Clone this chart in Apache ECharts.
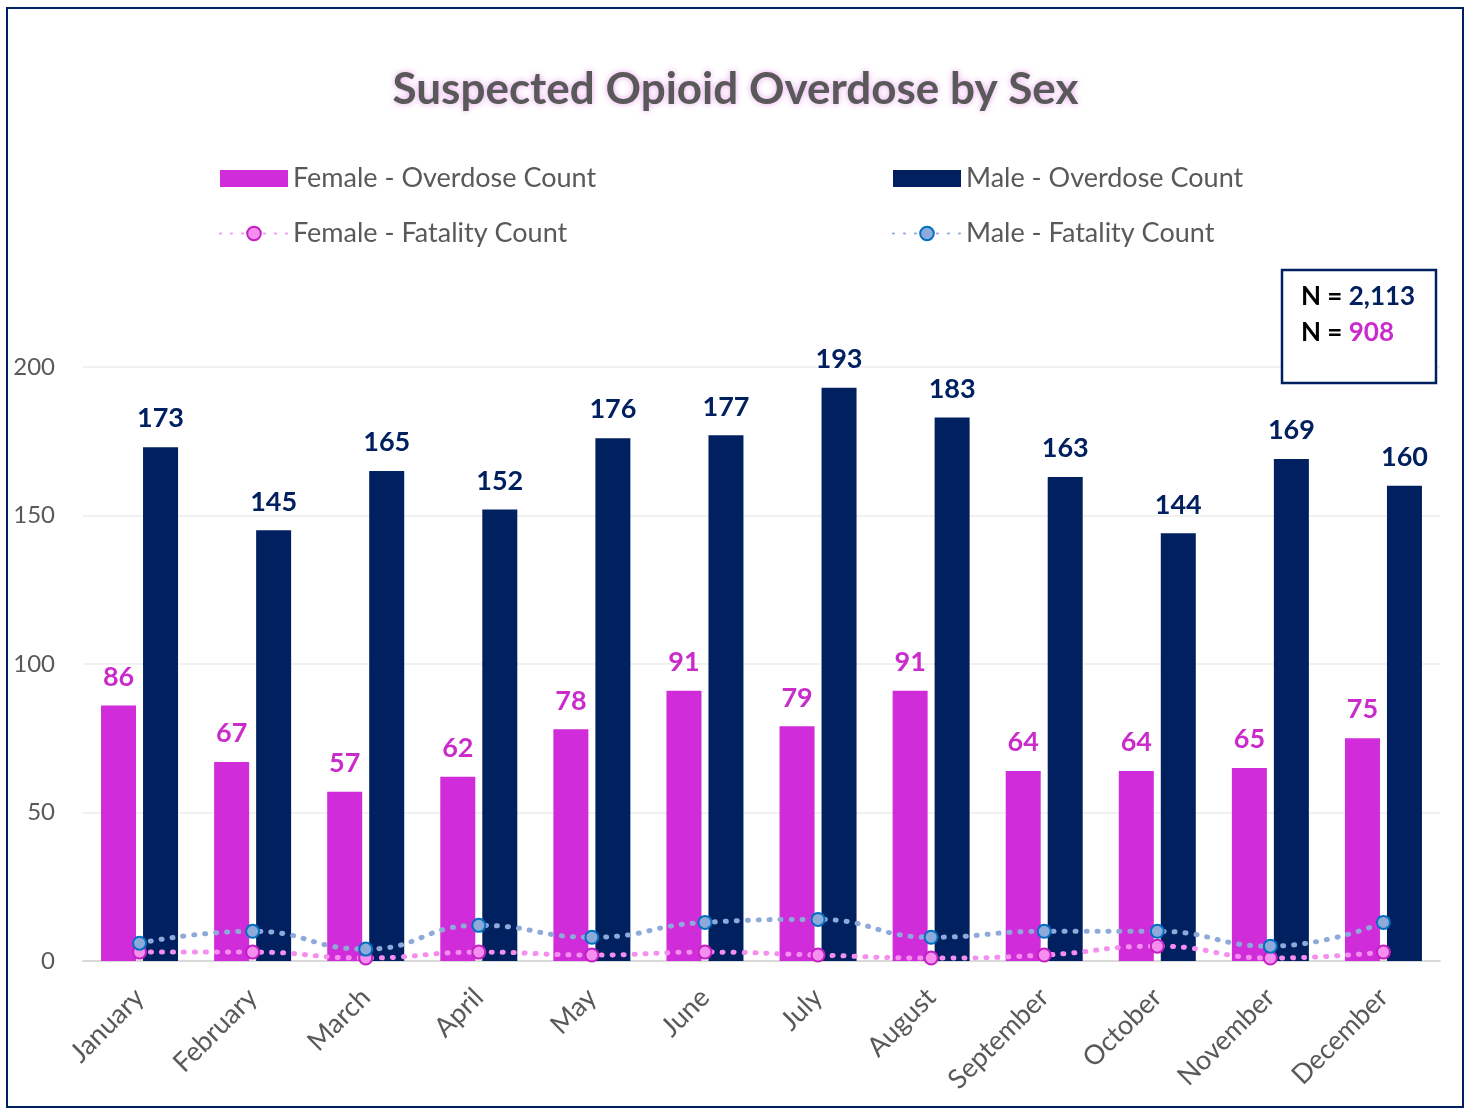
<!DOCTYPE html>
<html>
<head>
<meta charset="utf-8">
<script src="https://cdn.jsdelivr.net/npm/echarts@6/dist/echarts.min.js"></script>
<style>
html,body{margin:0;padding:0;background:#fff;}
#chart{width:1471px;height:1109px;}
</style>
</head>
<body>
<div id="chart"></div>
<script>
const months = ['January','February','March','April','May','June','July','August','September','October','November','December'];
const femaleOverdose = [86,67,57,62,78,91,79,91,64,64,65,75];
const maleOverdose = [173,145,165,152,176,177,193,183,163,144,169,160];
const femaleFatality = [3,3,1,3,2,3,2,1,2,5,1,3];
const maleFatality = [6,10,4,12,8,13,14,8,10,10,5,13];
const yTicks = [0,50,100,150,200];
const maleTotal = '2,113';
const femaleTotal = '908';

const FONT = 'Lato';
const GREY = '#595959';
const MAG = '#d02cd9';
const NAVY = '#002060';

const chart = echarts.init(document.getElementById('chart'));
chart.setOption({
  animation: false,
  textStyle: {fontFamily: FONT},
  title: {
    text: 'Suspected Opioid Overdose by Sex',
    left: 'center', top: 63,
    textStyle: {fontFamily: FONT, fontSize: 44, fontWeight: 'bold', color: GREY,
      textShadowColor: '#e9a6ec', textShadowBlur: 6}
  },
  legend: [
    {orient: 'vertical', left: 219, top: 165, padding: 0, itemWidth: 68, itemHeight: 17, itemGap: 28,
     data: [{name: 'Female - Overdose Count', icon: 'rect'}, 'Female - Fatality Count'],
     textStyle: {fontFamily: FONT, fontSize: 27, color: GREY}},
    {orient: 'vertical', left: 892, top: 165, padding: 0, itemWidth: 68, itemHeight: 17, itemGap: 28,
     data: [{name: 'Male - Overdose Count', icon: 'rect'}, 'Male - Fatality Count'],
     textStyle: {fontFamily: FONT, fontSize: 27, color: GREY}}
  ],
  grid: {left: 83, right: 31, top: 367, bottom: 148, containLabel: false},
  xAxis: {
    type: 'category', data: months,
    axisLine: {lineStyle: {color: '#d9d9d9', width: 2}},
    axisTick: {show: false},
    axisLabel: {rotate: 45, fontSize: 27, color: GREY, margin: 32, fontFamily: FONT, interval: 0}
  },
  yAxis: {
    type: 'value', min: yTicks[0], max: yTicks[yTicks.length-1], interval: 50,
    axisLine: {show: false}, axisTick: {show: false},
    axisLabel: {fontSize: 24, color: GREY, margin: 28, fontFamily: FONT},
    splitLine: {lineStyle: {color: '#ececec', width: 1.5}}
  },
  series: [
    {name: 'Female - Overdose Count', type: 'bar', data: femaleOverdose,
     barWidth: 35, barGap: '20%', itemStyle: {color: MAG},
     label: {show: true, position: 'top', distance: 15, fontSize: 27, fontWeight: 'bold', color: '#c92ccb', fontFamily: FONT}},
    {name: 'Male - Overdose Count', type: 'bar', data: maleOverdose,
     barWidth: 35, itemStyle: {color: NAVY},
     label: {show: true, position: 'top', distance: 15, fontSize: 27, fontWeight: 'bold', color: NAVY, fontFamily: FONT}},
    {name: 'Female - Fatality Count', type: 'line', data: femaleFatality, smooth: true,
     symbol: 'circle', symbolSize: 13,
     lineStyle: {color: '#f68ef0', width: 5, type: [1, 10], cap: 'round'},
     itemStyle: {color: '#f68ef0', borderColor: '#c41fc2', borderWidth: 2}, z: 5},
    {name: 'Male - Fatality Count', type: 'line', data: maleFatality, smooth: true,
     symbol: 'circle', symbolSize: 13,
     lineStyle: {color: '#8eaadb', width: 5, type: [1, 10], cap: 'round'},
     itemStyle: {color: '#8eaadb', borderColor: '#0070c0', borderWidth: 2}, z: 5}
  ],
  graphic: [
    {type: 'rect', shape: {x: 7, y: 8, width: 1456, height: 1099}, style: {fill: 'none', stroke: NAVY, lineWidth: 2}, silent: true},
    {type: 'rect', shape: {x: 1282, y: 270, width: 154, height: 113}, style: {fill: '#fff', stroke: NAVY, lineWidth: 2.5}, z: 10},
    {type: 'text', left: 1301, top: 284, z: 11,
     style: {text: '{b|N = }{n|' + maleTotal + '}\n{b|N = }{f|' + femaleTotal + '}',
       rich: {b: {fontFamily: FONT, fontSize: 26, fontWeight: 'bold', fill: '#000', lineHeight: 36},
              n: {fontFamily: FONT, fontSize: 26, fontWeight: 'bold', fill: NAVY, lineHeight: 36},
              f: {fontFamily: FONT, fontSize: 26, fontWeight: 'bold', fill: '#c92ccb', lineHeight: 36}}}}
  ]
});
</script>
</body>
</html>
